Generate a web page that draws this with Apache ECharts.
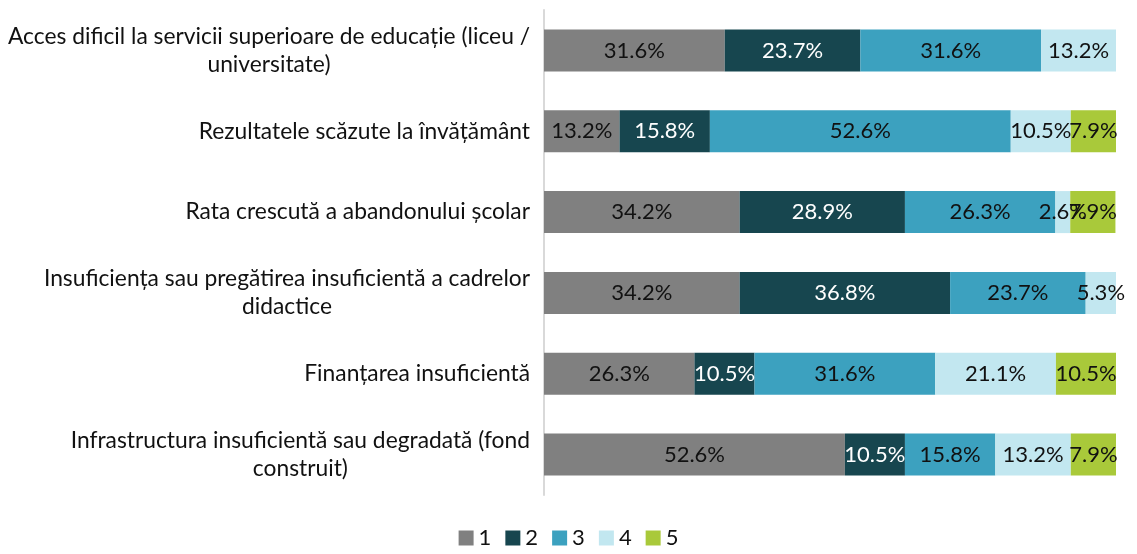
<!DOCTYPE html>
<html lang="ro">
<head>
<meta charset="utf-8">
<title>Probleme educație</title>
<script src="https://cdn.jsdelivr.net/npm/echarts@6/dist/echarts.min.js"></script>
<style>
  html, body { margin: 0; padding: 0; background: #fff; }
  #main { width: 1137px; height: 554px; }
</style>
</head>
<body>
<div id="main"></div>
<script>
// categorii, de sus in jos
const categories = [
  'Acces dificil la servicii superioare de educație (liceu /\nuniversitate)',
  'Rezultatele scăzute la învățământ',
  'Rata crescută a abandonului școlar',
  'Insuficiența sau pregătirea insuficientă a cadrelor\ndidactice',
  'Finanțarea insuficientă',
  'Infrastructura insuficientă sau degradată (fond\nconstruit)'
];
const seriesNames = ['1', '2', '3', '4', '5'];
const s1 = [31.6, 13.2, 34.2, 34.2, 26.3, 52.6];
const s2 = [23.7, 15.8, 28.9, 36.8, 10.5, 10.5];
const s3 = [31.6, 52.6, 26.3, 23.7, 31.6, 15.8];
const s4 = [13.2, 10.5, 2.6, 5.3, 21.1, 13.2];
const s5 = [null, 7.9, 7.9, null, 10.5, 7.9];
const colors = ['#808080', '#17464f', '#3ca1bf', '#c2e7f0', '#a9c93a'];
const labelColors = ['#111', '#fff', '#111', '#111', '#111'];

const chart = echarts.init(document.getElementById('main'));

const series = [s1, s2, s3, s4, s5].map((d, i) => ({
  name: seriesNames[i],
  type: 'bar',
  stack: 'total',
  barWidth: '52%',
  data: d,
  itemStyle: { color: colors[i] },
  label: {
    show: true,
    position: 'inside',
    color: labelColors[i],
    fontFamily: 'Lato',
    fontSize: 22,
    formatter: p => p.value == null ? '' : p.value.toFixed(1) + '%'
  },
  emphasis: { disabled: true }
}));

chart.setOption({
  animation: false,
  textStyle: { fontFamily: 'Lato' },
  grid: { left: 544, right: 21, top: 10, bottom: 59, containLabel: false },
  xAxis: {
    type: 'value',
    min: 0,
    max: 100,
    show: false
  },
  yAxis: {
    type: 'category',
    inverse: true,
    data: categories,
    axisLine: { show: true, lineStyle: { color: '#d9d9d9', width: 2 } },
    axisTick: { show: false },
    splitLine: { show: false },
    axisLabel: {
      margin: 14,
      align: 'right',
      formatter: v => '{c|' + v + '}',
      rich: {
        c: { align: 'center', fontSize: 22.8, fontFamily: 'Lato', color: '#111', lineHeight: 28 }
      }
    }
  },
  legend: {
    bottom: 0,
    left: 'center',
    icon: 'rect',
    itemWidth: 15,
    itemHeight: 15,
    itemGap: 14,
    textStyle: { fontSize: 22, color: '#111', fontFamily: 'Lato' },
    data: seriesNames
  },
  series: series
});
</script>
</body>
</html>
